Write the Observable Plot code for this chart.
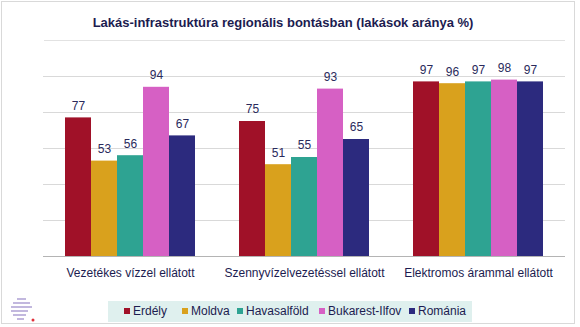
<!DOCTYPE html>
<html>
<head>
<meta charset="utf-8">
<script src="https://cdn.jsdelivr.net/npm/d3@7"></script>
<script src="https://cdn.jsdelivr.net/npm/@observablehq/plot@0.6"></script>
<style>
  html, body { margin: 0; padding: 0; background: #fff; }
  #frame { position: absolute; left: 1px; top: 1px; width: 574px; height: 323px; border: 1px solid #d9d9d9; box-sizing: border-box; }
  #title { position: absolute; left: 0; top: 15px; width: 566px; text-align: center; font: bold 13px "Liberation Sans", Arial, sans-serif; color: #1c1c50; }
  #sep { position: absolute; left: 44px; top: 40px; width: 521px; height: 0; border-top: 1px solid #e2e2e2; }
  #chart { position: absolute; left: 0; top: 46px; }
  #legend { position: absolute; left: 108px; top: 301px; width: 364px; height: 21px; background: #dff0ee; font: 12px "Liberation Sans", Arial, sans-serif; color: #1c1c50; }
  .item { position: absolute; top: 3px; white-space: nowrap; }
  .sw { display: inline-block; width: 6px; height: 6px; margin-right: 3px; vertical-align: 1px; }
</style>
</head>
<body>
<div id="frame"></div>
<div id="title">Lakás-infrastruktúra regionális bontásban (lakások aránya %)</div>
<div id="sep"></div>
<div id="chart"></div>
<div id="legend"></div>
<svg style="position:absolute;left:8px;top:296px" width="30" height="28">
  <g stroke="#b3a6d6" stroke-width="1.6">
    <line x1="9" y1="3" x2="18" y2="3"/>
    <line x1="5" y1="7" x2="22" y2="7"/>
    <line x1="3" y1="11" x2="24" y2="11"/>
    <line x1="3" y1="15" x2="20" y2="15"/>
    <line x1="5" y1="19" x2="18" y2="19"/>
    <line x1="9" y1="23" x2="16" y2="23"/>
  </g>
  <circle cx="25" cy="24" r="1.5" fill="#e0303a"/>
</svg>
<script>
const categories = ["Vezetékes vízzel ellátott", "Szennyvízelvezetéssel ellátott", "Elektromos árammal ellátott"];
const regions = ["Erdély", "Moldva", "Havasalföld", "Bukarest-Ilfov", "Románia"];
const colors = ["#a01128", "#d9a11d", "#2ea392", "#d660c4", "#2c2a7e"];
const erdely = [77, 75, 97];
const moldva = [53, 51, 96];
const havasalfold = [56, 55, 97];
const bukarest = [94, 93, 98];
const romania = [67, 65, 97];
const gridTicks = [20, 40, 60, 80, 100];

const series = [erdely, moldva, havasalfold, bukarest, romania];
const data = [];
categories.forEach((c, i) => regions.forEach((r, j) => data.push({cat: c, region: r, value: series[j][i]})));

const chart = Plot.plot({
  width: 580,
  height: 245,
  marginTop: 30,
  marginBottom: 35,
  marginLeft: 43,
  marginRight: 15,
  style: {fontFamily: "'Liberation Sans', Arial, sans-serif", fontSize: "12px", color: "#1c1c50", background: "transparent"},
  fx: {domain: categories, padding: 0, label: null, axis: "bottom", tickSize: 0, tickPadding: 12},
  x: {domain: regions, paddingInner: 0, paddingOuter: 0.746, axis: null},
  y: {domain: [0, 100], axis: null},
  color: {domain: regions, range: colors},
  marks: [
    Plot.ruleY(gridTicks, {stroke: "#d9d9d9"}),
    Plot.barY(data, {fx: "cat", x: "region", y: "value", fill: "region"}),
    Plot.ruleY([0], {stroke: "#b4b4b4", strokeWidth: 1.2}),
    Plot.text(data, {fx: "cat", x: "region", y: "value", text: d => String(d.value), dy: -12, fill: "#2a2a5c", fontSize: 12})
  ]
});
document.getElementById("chart").appendChild(chart);

const legend = document.getElementById("legend");
const lefts = [16, 74, 129, 211, 301];
regions.forEach((r, i) => {
  const it = document.createElement("div");
  it.className = "item";
  it.style.left = lefts[i] + "px";
  it.innerHTML = `<span class="sw" style="background:${colors[i]}"></span>${r}`;
  legend.appendChild(it);
});
</script>
</body>
</html>
